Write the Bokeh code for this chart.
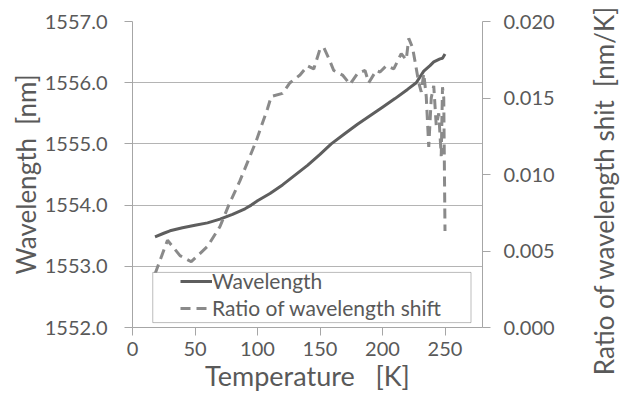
from bokeh.plotting import figure
from bokeh.layouts import row
from bokeh.models import (Range1d, LinearAxis, FixedTicker, PrintfTickFormatter,
                          Legend, LegendItem, BoxAnnotation, Label)
from bokeh.embed import file_html
from bokeh.resources import INLINE

# ---- data ----
temp_wl = [18, 25, 30, 40, 50, 60, 70, 80, 90, 95, 100, 110, 120, 130, 140, 150,
           159, 170, 180, 190, 200, 210, 220, 227, 233, 238, 241, 246, 248, 250]
wavelength = [1553.48, 1553.54, 1553.58, 1553.63, 1553.67, 1553.71, 1553.77, 1553.85,
              1553.94, 1554.00, 1554.07, 1554.19, 1554.33, 1554.49, 1554.65, 1554.83,
              1555.00, 1555.17, 1555.32, 1555.46, 1555.60, 1555.74, 1555.89, 1556.00,
              1556.19, 1556.28, 1556.34, 1556.39, 1556.40, 1556.47]

temp_ratio = [18, 28, 38, 47, 60, 70, 77, 86, 99, 108, 111, 120, 126, 134, 140, 145,
              150, 153, 157, 161, 168, 174, 180, 186, 189, 195, 198, 203, 209, 215,
              219, 221, 224, 226, 229, 231, 233, 235, 237, 239, 241, 243, 245, 247,
              248, 249, 250]
ratio = [0.0035, 0.0057, 0.0047, 0.0043, 0.0053, 0.0066, 0.0080, 0.0096, 0.0122,
         0.0143, 0.0151, 0.0153, 0.0160, 0.0165, 0.0171, 0.0169, 0.0182, 0.0183,
         0.0176, 0.0168, 0.0165, 0.0159, 0.0166, 0.0168, 0.0160, 0.0168, 0.0167,
         0.0171, 0.0169, 0.0179, 0.0175, 0.0189, 0.0183, 0.0174, 0.0160, 0.0154,
         0.0166, 0.0151, 0.0118, 0.0150, 0.0158, 0.0132, 0.0140, 0.0112, 0.0157,
         0.0150, 0.0063]

x_ticks = [0, 50, 100, 150, 200, 250]
wl_ticks = [1552, 1553, 1554, 1555, 1556, 1557]
ratio_ticks = [0.0, 0.005, 0.010, 0.015, 0.020]

FONT = "Lato"
TEXT_COLOR = "#595959"
AXIS_COLOR = "#a6a6a6"

p = figure(width=580, height=394, output_backend="svg", toolbar_location=None,
           x_range=Range1d(0, 280), y_range=Range1d(1552, 1557),
           min_border_left=132, min_border_right=98, min_border_top=21,
           min_border_bottom=66)
p.frame_align = False
p.extra_y_ranges = {"ratio": Range1d(0, 0.02)}
p.outline_line_color = None
p.background_fill_color = "white"
p.border_fill_color = "white"

# lines
r_wl = p.line(temp_wl, wavelength, line_color="#5e5e5e", line_width=3)
r_ratio = p.line(temp_ratio, ratio, y_range_name="ratio", line_color="#8a8a8a",
                 line_width=3, line_dash="10 6")


def style_axis(ax):
    ax.axis_line_color = AXIS_COLOR
    ax.major_tick_line_color = AXIS_COLOR
    ax.minor_tick_line_color = None
    ax.major_tick_in = 0
    ax.major_tick_out = 8
    ax.major_label_text_font = FONT
    ax.major_label_text_font_size = "20px"
    ax.major_label_text_color = TEXT_COLOR
    ax.axis_label_text_font = FONT
    ax.axis_label_text_font_size = "26px"
    ax.axis_label_text_font_style = "normal"
    ax.axis_label_text_color = TEXT_COLOR


xa = p.xaxis[0]
xa.ticker = FixedTicker(ticks=x_ticks)
xa.axis_label = "Temperature\u00a0\u00a0\u00a0[K]"
xa.major_label_standoff = 6
xa.axis_label_standoff = 0
style_axis(xa)
xa.axis_label_text_font_size = "27px"

ya = p.yaxis[0]
ya.ticker = FixedTicker(ticks=wl_ticks)
ya.formatter = PrintfTickFormatter(format="%.1f")
ya.axis_label = "Wavelength\u00a0\u00a0[nm]"
ya.major_label_standoff = 17
ya.axis_label_standoff = 0
style_axis(ya)

ra = LinearAxis(y_range_name="ratio", ticker=FixedTicker(ticks=ratio_ticks),
                formatter=PrintfTickFormatter(format="%.3f"))
ra.major_label_standoff = 13
style_axis(ra)
p.add_layout(ra, "right")

p.xgrid.grid_line_color = None
p.ygrid.ticker = FixedTicker(ticks=wl_ticks)
p.ygrid.grid_line_color = "#b4b4b4"
p.ygrid.grid_line_width = 1

# legend frame
box = BoxAnnotation(left=16.2, right=270.8, bottom=1552.08, top=1552.90,
                    fill_color="white", fill_alpha=1.0, line_color="#222222",
                    line_width=1)
p.add_layout(box)

legend = Legend(items=[LegendItem(label="Wavelength", renderers=[r_wl]),
                       LegendItem(label="Ratio of wavelength shift", renderers=[r_ratio])],
                location=(48, 7), padding=0, margin=0, spacing=2,
                glyph_width=32, glyph_height=22, label_standoff=0, label_height=22,
                label_text_font=FONT, label_text_font_size="21px",
                label_text_color=TEXT_COLOR, border_line_color=None,
                background_fill_alpha=0)
p.add_layout(legend)

# narrow strip holding the right-axis title, reading bottom-to-top
p2 = figure(width=45, height=394, output_backend="svg", toolbar_location=None,
            x_range=Range1d(0, 45), y_range=Range1d(0, 394),
            min_border=0, min_border_left=0, min_border_right=0,
            min_border_top=0, min_border_bottom=0)
p2.frame_align = False
p2.axis.visible = False
p2.grid.visible = False
p2.outline_line_color = None
p2.border_fill_color = "white"
p2.background_fill_color = "white"
p2.add_layout(Label(x=23, y=204, text="Ratio of wavelength shit\u00a0\u00a0[nm/K]",
                    angle=90, angle_units="deg", text_align="center",
                    text_baseline="middle", text_font=FONT, text_font_size="26px",
                    text_color=TEXT_COLOR))

layout = row(p, p2, spacing=0)
open("out.html", "w").write(file_html(layout, INLINE))
